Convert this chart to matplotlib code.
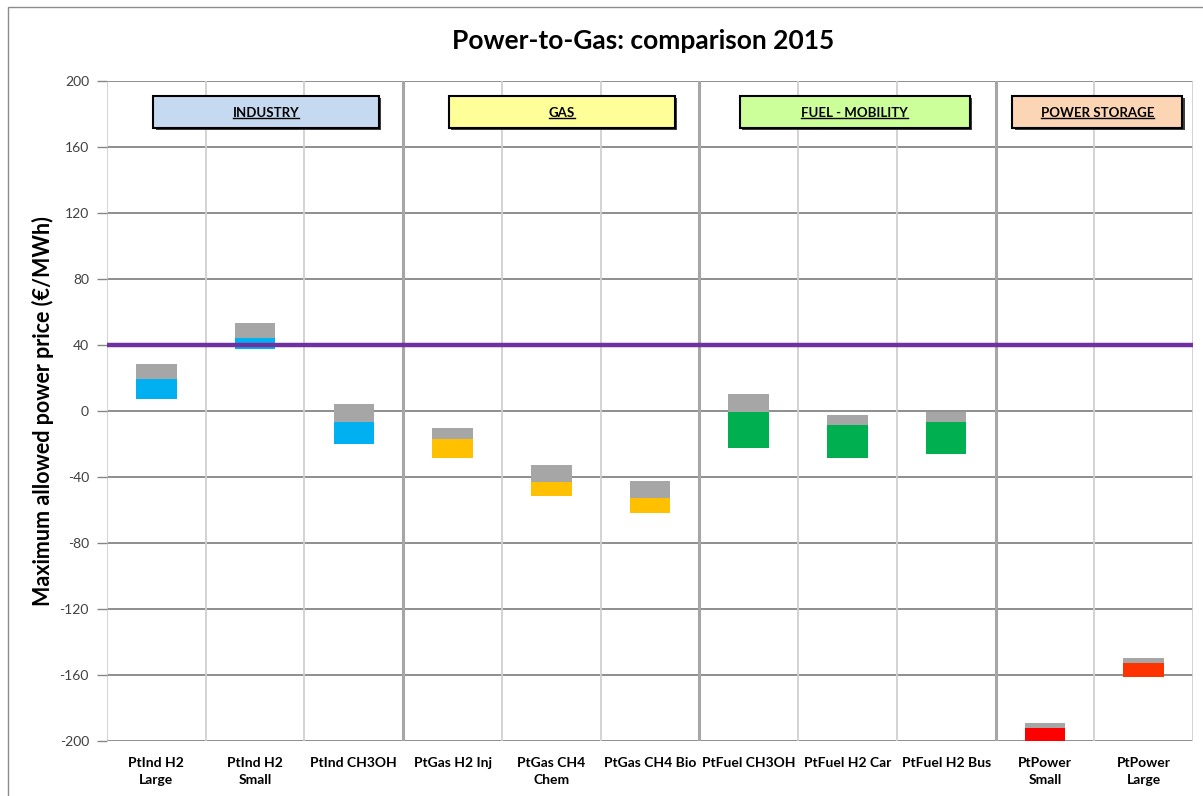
import matplotlib
matplotlib.use("Agg")
import matplotlib.pyplot as plt
import matplotlib.patches as patches
from matplotlib.lines import Line2D

plt.rcParams['font.family'] = ['Lato', 'DejaVu Sans']

categories = ["PtInd H2\nLarge", "PtInd H2\nSmall", "PtInd CH3OH", "PtGas H2 Inj",
              "PtGas CH4\nChem", "PtGas CH4 Bio", "PtFuel CH3OH", "PtFuel H2 Car",
              "PtFuel H2 Bus", "PtPower\nSmall", "PtPower\nLarge"]
# coloured part runs low -> mid, grey part mid -> high
low = [7, 37.3, -20.3, -28.8, -51.9, -62.2, -22.8, -28.8, -26.4, -200.5, -161.2]
mid = [19.1, 44.0, -7.0, -17.3, -43.4, -53.1, -0.9, -8.8, -7.0, -192.5, -152.7]
high = [28.2, 53.1, 3.9, -10.6, -33.0, -42.8, 10.0, -2.7, -0.9, -189.0, -149.6]
bar_colors = ["#00B0F0", "#00B0F0", "#00B0F0", "#FFC000", "#FFC000", "#FFC000",
              "#00B050", "#00B050", "#00B050", "#FF0000", "#FF3300"]
reference_price = 40
yticks = [200, 160, 120, 80, 40, 0, -40, -80, -120, -160, -200]

groups = ["INDUSTRY", "GAS", "FUEL - MOBILITY", "POWER STORAGE"]
group_colors = ["#C5D9F1", "#FFFF99", "#CCFF99", "#FCD5B4"]
group_spans = [(-0.03, 2.25), (2.96, 5.25), (5.91, 8.24), (8.67, 10.39)]
group_edges = [2.5, 5.5, 8.5]

fig = plt.figure(figsize=(12.03, 7.96), dpi=100)
ax = fig.add_axes([107 / 1203, 1 - 740.7 / 796, 1086 / 1203, (740.7 - 81) / 796])

# outer chart frame
fig.add_artist(patches.Rectangle((8 / 1203, -0.1), 1.2, 1 - 7 / 796 + 0.1,
                                 transform=fig.transFigure, fill=False,
                                 edgecolor="#8C8C8C", linewidth=1))

n = len(categories)
ax.set_xlim(-0.5, n - 0.5)
ax.set_ylim(-200, 200)

for y in yticks:
    ax.axhline(y, color="#868686", linewidth=1.3, zorder=1)
for i in range(n + 1):
    xb = i - 0.5
    if xb in group_edges:
        ax.axvline(xb, color="#A6A6A6", linewidth=2.2, zorder=1)
    else:
        ax.axvline(xb, color="#D0D0D0", linewidth=1.3, zorder=1)

xs = list(range(n))
ax.bar(xs, [m - l for l, m in zip(low, mid)], bottom=low, width=0.41,
       color=bar_colors, zorder=3)
ax.bar(xs, [h - m for m, h in zip(mid, high)], bottom=mid, width=0.41,
       color="#A6A6A6", zorder=3)

ax.axhline(reference_price, color="#7030A0", linewidth=3.2, zorder=4)

ax.set_yticks(yticks)
ax.set_yticklabels([str(v) for v in yticks], fontsize=10, color="#404040")
ax.set_xticks(xs)
ax.set_xticklabels(categories, fontsize=10, fontweight="bold", linespacing=1.5)
ax.tick_params(axis="x", length=0, pad=12)
ax.tick_params(axis="y", length=7, width=1, color="#868686", pad=6)
for s in ax.spines.values():
    s.set_visible(False)

ax.set_ylabel("Maximum allowed power price (€/MWh)", fontsize=15.5,
              fontweight="bold", labelpad=4)
fig.text(0.535, 0.949, "Power-to-Gas: comparison 2015", fontsize=19,
         fontweight="bold", ha="center", va="center")

# sector header boxes
box_low, box_high = 171.5, 191
label_texts = []
for name, col, (x0, x1) in zip(groups, group_colors, group_spans):
    ax.add_patch(patches.Rectangle((x0 + 0.025, box_low - 1.5), x1 - x0, box_high - box_low,
                                   facecolor="#404040", edgecolor="none", zorder=5))
    ax.add_patch(patches.Rectangle((x0, box_low), x1 - x0, box_high - box_low,
                                   facecolor=col, edgecolor="black", linewidth=1.5, zorder=6))
    t = ax.text((x0 + x1) / 2, (box_low + box_high) / 2 - 0.5, name, fontsize=9.5,
                fontweight="bold", ha="center", va="center", zorder=7)
    label_texts.append(t)

# underline the header texts
fig.canvas.draw()
renderer = fig.canvas.get_renderer()
inv = fig.transFigure.inverted()
for t in label_texts:
    bb = t.get_window_extent(renderer)
    (fx0, fy0) = inv.transform((bb.x0, bb.y0 + 1))
    (fx1, _) = inv.transform((bb.x1, bb.y0 + 1))
    fig.add_artist(Line2D([fx0, fx1], [fy0, fy0], color="black", linewidth=1,
                          transform=fig.transFigure, zorder=8))

fig.savefig("out.png", dpi=100)
